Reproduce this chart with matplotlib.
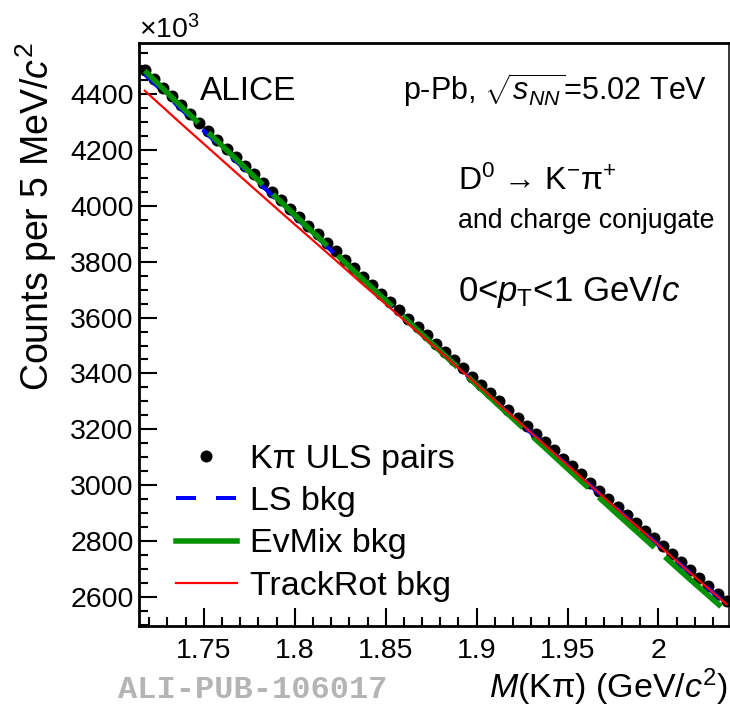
import matplotlib
matplotlib.use("Agg")
import matplotlib.pyplot as plt
from matplotlib.lines import Line2D
from matplotlib.ticker import MultipleLocator
import numpy as np

plt.rcParams['font.family'] = ['Liberation Sans', 'DejaVu Sans']
plt.rcParams['mathtext.fontset'] = 'custom'
plt.rcParams['mathtext.rm'] = 'Liberation Sans'
plt.rcParams['mathtext.it'] = 'Liberation Sans:italic'
plt.rcParams['mathtext.bf'] = 'Liberation Sans:bold'
plt.rcParams['lines.scale_dashes'] = False

# ---- data (counts in units of 10^3 per 5 MeV/c^2 bin) ----
bin_lo = 1.715
bin_width = 0.005
uls_counts = [4487, 4456, 4424, 4393, 4361, 4330, 4299, 4268, 4237, 4206,
              4175, 4144, 4113, 4082, 4051, 4020, 3990, 3959, 3929, 3898,
              3868, 3837, 3807, 3777, 3746, 3716, 3686, 3656, 3626, 3596,
              3566, 3536, 3507, 3477, 3447, 3418, 3388, 3358, 3329, 3300,
              3270, 3241, 3212, 3183, 3154, 3124, 3095, 3067, 3038, 3009,
              2980, 2951, 2923, 2894, 2865, 2837, 2809, 2780, 2752, 2724,
              2695, 2667, 2639, 2611, 2583]

bkg_mass = [1.7175, 1.7375, 1.7575, 1.7775, 1.7975, 1.8175, 1.8375, 1.8575,
            1.8775, 1.8975, 1.9175, 1.9375, 1.9575, 1.9775, 1.9975, 2.0175, 2.0375]
ls_bkg = [4472, 4347, 4223, 4100, 3977, 3856, 3734, 3614, 3496, 3377, 3259,
          3143, 3027, 2912, 2799, 2685, 2573]
evmix_bkg = [4485, 4357, 4232, 4107, 3983, 3860, 3737, 3616, 3495, 3374, 3253,
             3134, 3014, 2895, 2778, 2661, 2547]
trackrot_bkg = [4413, 4295, 4179, 4063, 3948, 3834, 3719, 3606, 3492, 3376, 3260,
                3144, 3028, 2913, 2799, 2685, 2573]

labels = ["K\u03c0 ULS pairs", "LS bkg", "EvMix bkg", "TrackRot bkg"]
x_ticks = [1.75, 1.8, 1.85, 1.9, 1.95, 2.0]
x_tick_labels = ["1.75", "1.8", "1.85", "1.9", "1.95", "2"]
y_ticks = [2600, 2800, 3000, 3200, 3400, 3600, 3800, 4000, 4200, 4400]

uls_mass = bin_lo + bin_width * (np.arange(len(uls_counts)) + 0.5)

# ---- figure ----
W, H = 730, 707
fig = plt.figure(figsize=(W / 100, H / 100), dpi=100)
ax = fig.add_axes([139.3 / W, 1 - 626 / H, (728.5 - 139.3) / W, (626 - 43.3) / H])

px = 0.72  # points per pixel
ms = 12 * px

ax.plot(uls_mass, uls_counts, 'o', color='black', ms=ms, mew=0, zorder=2)
l_ls, = ax.plot(bkg_mass, ls_bkg, color='#0000ff', lw=4 * px, zorder=3,
                dash_capstyle='butt')
l_ls.set_dashes((20 * px, 20 * px))
l_ev, = ax.plot(bkg_mass, evmix_bkg, color='#009000', lw=5.5 * px, zorder=4,
                dash_capstyle='butt')
l_ev.set_dashes((75 * px, 14 * px))
l_tr, = ax.plot(bkg_mass, trackrot_bkg, color='#ff0000', lw=2.2 * px, zorder=5)

ax.set_xlim(1.7145, 2.0385)
ax.set_ylim(2495, 4583)

ax.set_xticks(x_ticks)
ax.set_xticklabels(x_tick_labels)
ax.set_yticks(y_ticks)
ax.xaxis.set_minor_locator(MultipleLocator(0.01))
ax.yaxis.set_minor_locator(MultipleLocator(50))
ax.tick_params(which='both', direction='in', top=False, right=False,
               labelsize=20.5, width=1.5)
ax.tick_params(which='major', length=13)
ax.tick_params(which='minor', length=6.5)
ax.tick_params(axis='y', pad=4)
ax.tick_params(axis='x', pad=9)

for s in ['left', 'bottom', 'top']:
    ax.spines[s].set_linewidth(2.0)
ax.spines['right'].set_linewidth(1.1)

# axis titles
fig.text(728 / W, 1 - 698 / H, r'$M$(K$\mathrm{\pi}$) (GeV/$c^{2}$)', ha='right',
         va='baseline', fontsize=24.5)
fig.text(36 / W, 1 - 43 / H, r'Counts per 5 MeV/$c^{2}$', rotation=90,
         ha='center', va='top', fontsize=27)
fig.text(139 / W, 1 - 38 / H, r'$\times$10$^{3}$', ha='left', va='baseline',
         fontsize=20.5)

# annotations
ff = fig.transFigure
ax.text(200 / W, 1 - 100 / H, 'ALICE', transform=ff, fontsize=24,
        ha='left', va='baseline')
ax.text(707 / W, 1 - 100 / H, r'p-Pb, $\sqrt{s_{NN}}$=5.02 TeV',
        transform=ff, fontsize=22, ha='right', va='baseline')
ax.text(458 / W, 1 - 190 / H, 'D$^{0}$ \u2192 K$^{-}$\u03c0$^{+}$',
        transform=ff, fontsize=23, ha='left', va='baseline')
ax.text(458 / W, 1 - 228 / H, 'and charge conjugate', transform=ff,
        fontsize=19.2, ha='left', va='baseline')
ax.text(458 / W, 1 - 301 / H, r'0<$p_{\mathrm{T}}$<1 GeV/$c$',
        transform=ff, fontsize=25, ha='left', va='baseline')

# watermark
fig.text(118 / W, 1 - 690 / H, 'ALI-PUB-106017', fontsize=23,
         family='Liberation Mono', weight='bold', color='#b4b4b4',
         ha='left', va='center')

# legend
handles = [
    Line2D([], [], ls='none', marker='o', color='black', ms=ms, mew=0),
    Line2D([], [], color='#0000ff', lw=4 * px, dashes=(20 * px, 20 * px),
           dash_capstyle='butt'),
    Line2D([], [], color='#009000', lw=5.5 * px),
    Line2D([], [], color='#ff0000', lw=2.2 * px),
]
ax.legend(handles, labels, loc='upper left',
          bbox_to_anchor=(176 / W, 1 - 444 / H), bbox_transform=ff,
          frameon=False, fontsize=24.5, handlelength=1.78, handletextpad=0.39,
          labelspacing=0.33, borderpad=0, borderaxespad=0)

fig.savefig('out.png', dpi=100)
